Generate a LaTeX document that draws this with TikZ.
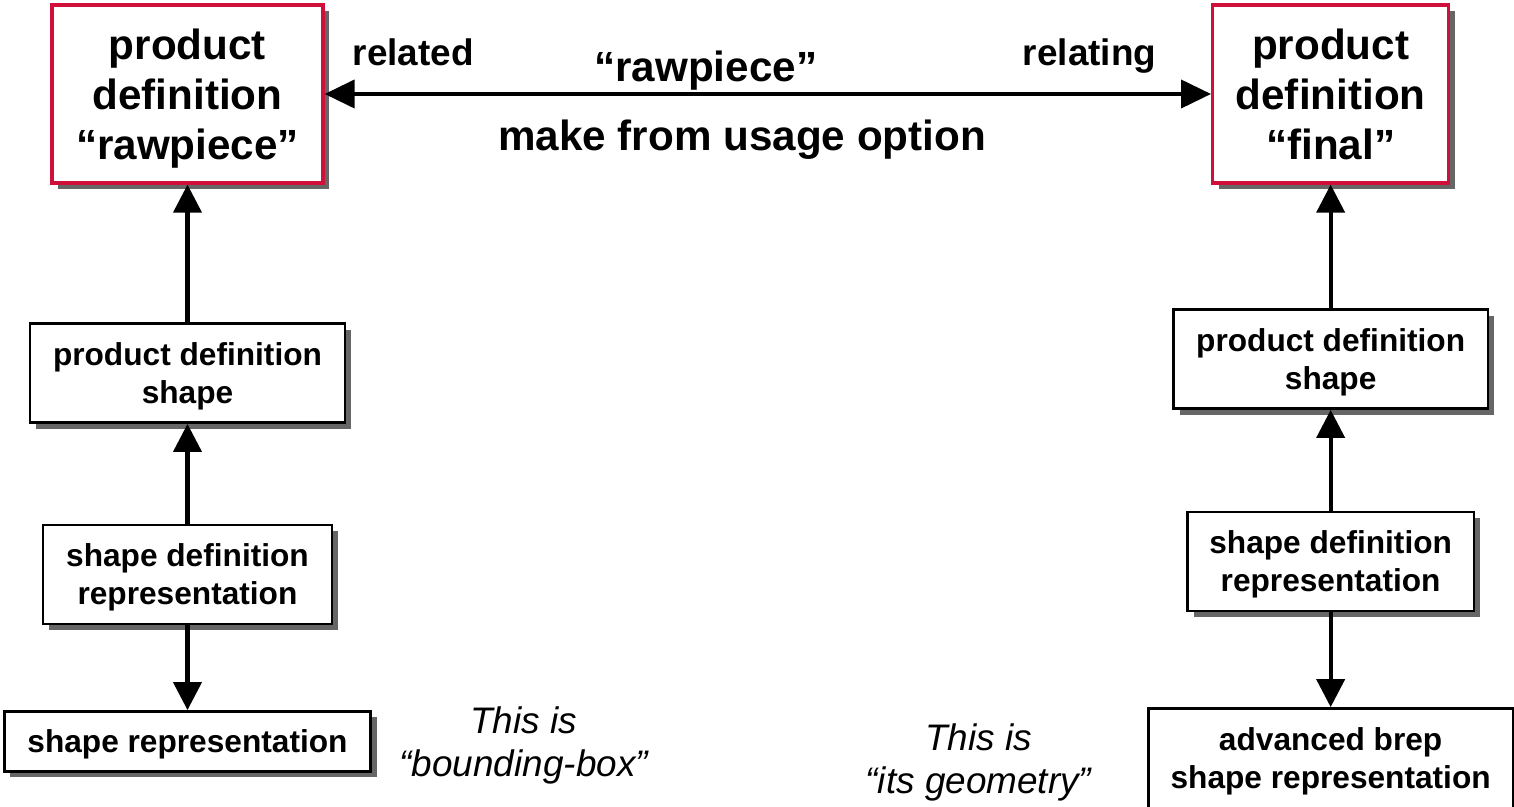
\documentclass[tikz,border=0pt]{standalone}
\usepackage{fontspec}
\setmainfont{Liberation Sans}
\usetikzlibrary{arrows.meta, shadows}
\definecolor{pdred}{RGB}{208,16,58}
\tikzstyle{prodbox} = [rectangle, minimum height=1.78cm, text centered, align=center, text depth=0pt, draw=pdred, line width=0.9pt, fill=white, font=\fontsize{12}{14.2}\selectfont\bfseries, drop shadow={shadow xshift=0.06cm, shadow yshift=-0.06cm, fill=black!60, opacity=1}]
\tikzstyle{entity} = [rectangle, minimum height=0.99cm, text centered, align=center, text depth=0pt, draw=black, line width=0.7pt, fill=white, font=\fontsize{9}{10.8}\selectfont\bfseries, drop shadow={shadow xshift=0.06cm, shadow yshift=-0.06cm, fill=black!60, opacity=1}]
\tikzstyle{note} = [align=center, text depth=0pt, font=\fontsize{10.5}{12.2}\selectfont\itshape]
\tikzstyle{relname} = [text depth=0pt, font=\fontsize{10.5}{12}\selectfont\bfseries]
\tikzstyle{title} = [text depth=0pt, font=\fontsize{12}{14}\selectfont\bfseries]
\tikzstyle{arrow} = [line width=1.15pt, -{Triangle[length=0.28cm, width=0.28cm]}]
\tikzstyle{biarrow} = [line width=1.15pt, {Triangle[length=0.3cm, width=0.28cm]}-{Triangle[length=0.3cm, width=0.28cm]}]

\begin{document}
\begin{tikzpicture}[x=0.01cm, y=-0.01cm, node distance=2cm]
\useasboundingbox (0,0) rectangle (1514,807);
\node (prd_raw) [prodbox, minimum width=2.71cm] at (187.5,94) {product\\definition\\“rawpiece”};
\node (pds_raw) [entity, minimum width=3.15cm, below of=prd_raw, yshift=-0.79cm] {product definition\\shape};
\node (sdr_raw) [entity, minimum width=2.89cm, below of=pds_raw, yshift=-0.01cm] {shape definition\\representation};
\node (sr_raw) [entity, minimum width=3.66cm, minimum height=0.6cm, below of=sdr_raw, yshift=0.33cm] {shape representation};
\node (prd_final) [prodbox, minimum width=2.36cm, right of=prd_raw, xshift=9.425cm] {product\\definition\\“final”};
\node (pds_final) [entity, minimum width=3.14cm, below of=prd_final, yshift=-0.65cm] {product definition\\shape};
\node (sdr_final) [entity, minimum width=2.86cm, below of=pds_final, yshift=-0.02cm] {shape definition\\representation};
\node (absr_final) [entity, minimum width=3.64cm, minimum height=1cm, below of=sdr_final, yshift=0.03cm] {advanced brep\\shape representation};
\node (note_raw) [note, right of=sr_raw, xshift=1.36cm] {This is\\“bounding-box”};
\node (note_final) [note, left of=absr_final, xshift=-1.52cm] {This is\\“its geometry”};

\draw [biarrow] (prd_raw) -- node[pos=0.1, yshift=0.42cm, relname] {related} node[pos=0.863, yshift=0.42cm, relname] {relating} node[pos=0.43, yshift=0.28cm, title] {“rawpiece”} node[pos=0.471, yshift=-0.41cm, title] {make from usage option} (prd_final);
\draw [arrow] (pds_raw) -- (prd_raw);
\draw [arrow] (sdr_raw) -- (pds_raw);
\draw [arrow] (sdr_raw) -- (sr_raw);
\draw [arrow] (pds_final) -- (prd_final);
\draw [arrow] (sdr_final) -- (pds_final);
\draw [arrow] (sdr_final) -- (absr_final);
\end{tikzpicture}
\end{document}
